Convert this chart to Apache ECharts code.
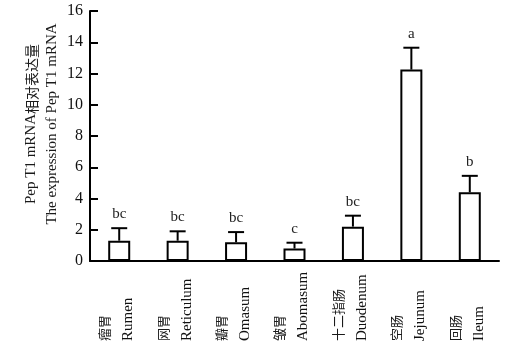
<!DOCTYPE html>
<html>
<head>
<meta charset="utf-8">
<script src="https://cdn.jsdelivr.net/npm/echarts@6/dist/echarts.min.js"></script>
<style>html,body{margin:0;padding:0;background:#fff}#c{width:515px;height:358px}</style>
</head>
<body>
<div id="c"></div>
<script>
const categoriesEn = ['Rumen', 'Reticulum', 'Omasum', 'Abomasum', 'Duodenum', 'Jejunum', 'Ileum'];
const categoriesZh = ['瘤胃', '网胃', '瓣胃', '皱胃', '十二指肠', '空肠', '回肠'];
const means = [1.3, 1.3, 1.2, 0.8, 2.2, 12.25, 4.4];
const upper = [2.1, 1.9, 1.85, 1.17, 2.9, 13.65, 5.45];
const letters = ['bc', 'bc', 'bc', 'c', 'bc', 'a', 'b'];
const yTicks = [0, 2, 4, 6, 8, 10, 12, 14, 16];

const serif = '"Liberation Serif", "Times New Roman", serif';
const cjk = '"Noto Sans CJK SC", sans-serif';

const chart = echarts.init(document.getElementById('c'), null, {renderer: 'canvas'});
chart.setOption({
  animation: false,
  backgroundColor: '#fff',
  grid: {left: 90, right: 16, top: 11, bottom: 97, containLabel: false},
  xAxis: {
    type: 'category',
    data: categoriesEn,
    axisLine: {lineStyle: {color: '#000', width: 2}},
    axisTick: {show: false},
    axisLabel: {
      rotate: 90,
      align: 'left',
      verticalAlign: 'middle',
      margin: 80,
      interval: 0,
      formatter: function (v, i) { return '{zh|' + categoriesZh[i] + '}\n{en|' + v + '}'; },
      rich: {
        zh: {fontFamily: cjk, fontSize: 13, lineHeight: 18, color: '#1a1a1a'},
        en: {fontFamily: serif, fontSize: 15, lineHeight: 30, color: '#111'}
      }
    }
  },
  yAxis: {
    type: 'value',
    min: yTicks[0],
    max: yTicks[yTicks.length - 1],
    interval: 2,
    splitLine: {show: false},
    axisLine: {show: true, lineStyle: {color: '#000', width: 2}},
    axisTick: {show: true, inside: true, length: 8, lineStyle: {color: '#000', width: 2}},
    axisLabel: {fontFamily: serif, fontSize: 16, color: '#111', margin: 7}
  },
  graphic: [{
    type: 'text',
    x: 42,
    y: 124,
    rotation: Math.PI / 2,
    style: {
      text: '{a|Pep T1 mRNA}{z|相对表达量}\n{a|The expression of Pep T1 mRNA}',
      align: 'center',
      verticalAlign: 'middle',
      rich: {
        a: {fontFamily: serif, fontSize: 15, lineHeight: 21, fill: '#1a1a1a', color: '#1a1a1a'},
        z: {fontFamily: cjk, fontSize: 14, lineHeight: 21, fill: '#1a1a1a', color: '#1a1a1a'}
      }
    }
  }],
  series: [
    {
      type: 'bar',
      data: means,
      barWidth: 22,
      itemStyle: {color: '#fff', borderColor: '#000', borderWidth: 2},
      silent: true
    },
    {
      type: 'custom',
      data: means.map((m, i) => [i, m, upper[i]]),
      renderItem: function (params, api) {
        const i = api.value(0);
        const b = api.coord([i, api.value(1)]);
        const t = api.coord([i, api.value(2)]);
        const cap = 8;
        return {
          type: 'group',
          children: [
            {type: 'line', shape: {x1: b[0], y1: b[1], x2: t[0], y2: t[1]}, style: {stroke: '#000', lineWidth: 2}},
            {type: 'line', shape: {x1: t[0] - cap, y1: t[1], x2: t[0] + cap, y2: t[1]}, style: {stroke: '#000', lineWidth: 2}},
            {type: 'text', x: t[0], y: t[1] - 14, style: {text: letters[params.dataIndex], align: 'center', verticalAlign: 'middle', font: '15px ' + serif, fill: '#222'}}
          ]
        };
      },
      z: 3
    }
  ]
});
</script>
</body>
</html>
